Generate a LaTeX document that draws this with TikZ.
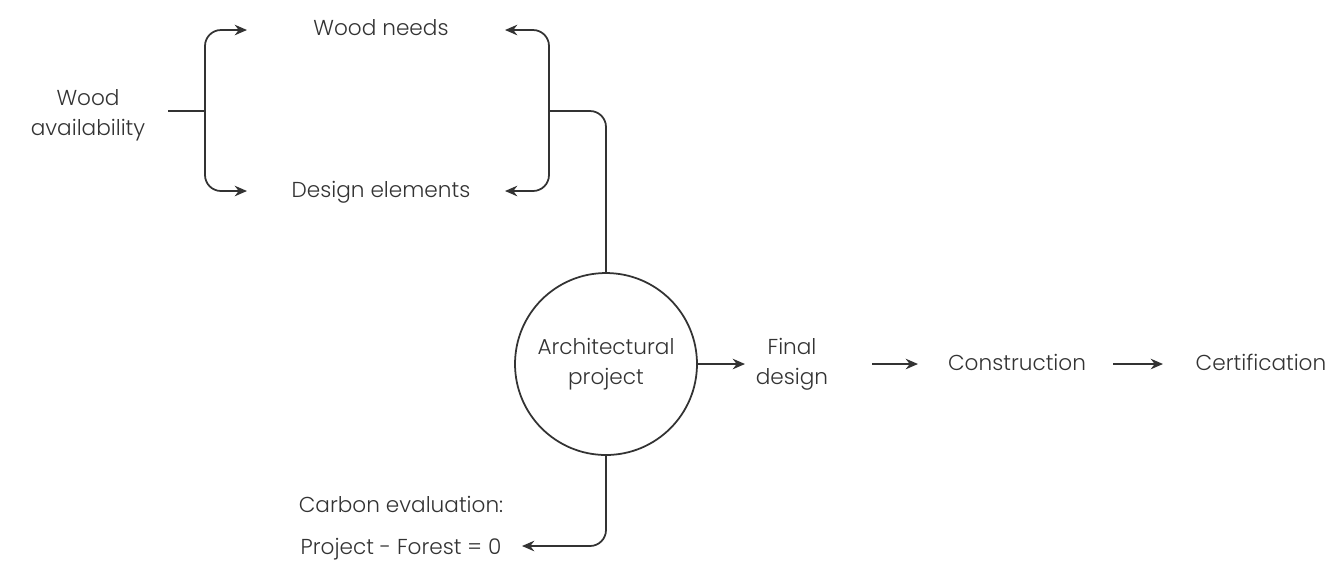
\documentclass[tikz,border=0pt]{standalone}
\usepackage{fontspec}
\setmainfont{Poppins}[UprightFont=* Light]
\usetikzlibrary{arrows.meta}
\definecolor{ink}{HTML}{333333}
\begin{document}
\begin{tikzpicture}[x=0.02cm,y=-0.02cm,
  lbl/.style={font=\fontsize{12.3}{17}\selectfont, text=ink, align=center, inner sep=0pt},
  conn/.style={draw=ink, line width=1pt},
  arr/.style={conn, -{Stealth[length=7pt,width=6pt]}},
  rc/.style={rounded corners=0.32cm}]
\useasboundingbox (0,0) rectangle (1339,583);
\node[lbl] (avail) at (88,115) {Wood\\availability};
\node[lbl] (needs) at (381,28) {Wood needs};
\node[lbl] (design) at (381,192) {Design elements};
\node[circle, draw=ink, line width=1pt, minimum size=3.64cm, inner sep=0pt, lbl] (arch) at (606,364) {Architectural\\project};
\node[lbl] (final) at (792,364) {Final\\design};
\node[lbl] (constr) at (1017,362) {Construction};
\node[lbl] (cert) at (1261,362) {Certification};
\node[lbl] (carbon) at (401,528) {Carbon evaluation:\\[7pt]Project - Forest = 0};
\coordinate (ls) at (168,111);
\coordinate (lb) at (205,111);
\coordinate (rb) at (549,111);
\coordinate (needsL) at (247,30);
\coordinate (designL) at (247,191);
\coordinate (needsR) at (505,30);
\coordinate (designR) at (505,191);
\coordinate (finalL) at (745,364);
\coordinate (fA) at (872,364);
\coordinate (fB) at (918,364);
\coordinate (cA) at (1113,364);
\coordinate (cB) at (1163,364);
\coordinate (carbonR) at (522,546);
\draw[conn] (ls) -- (lb);
\draw[arr,rc] (lb) |- (needsL);
\draw[arr,rc] (lb) |- (designL);
\draw[arr,rc] (rb) |- (needsR);
\draw[arr,rc] (rb) |- (designR);
\draw[conn,rc] (rb) -| (arch.north);
\draw[arr] (arch.east) -- (finalL);
\draw[arr] (fA) -- (fB);
\draw[arr] (cA) -- (cB);
\draw[arr,rc] (arch.south) |- (carbonR);
\end{tikzpicture}
\end{document}
